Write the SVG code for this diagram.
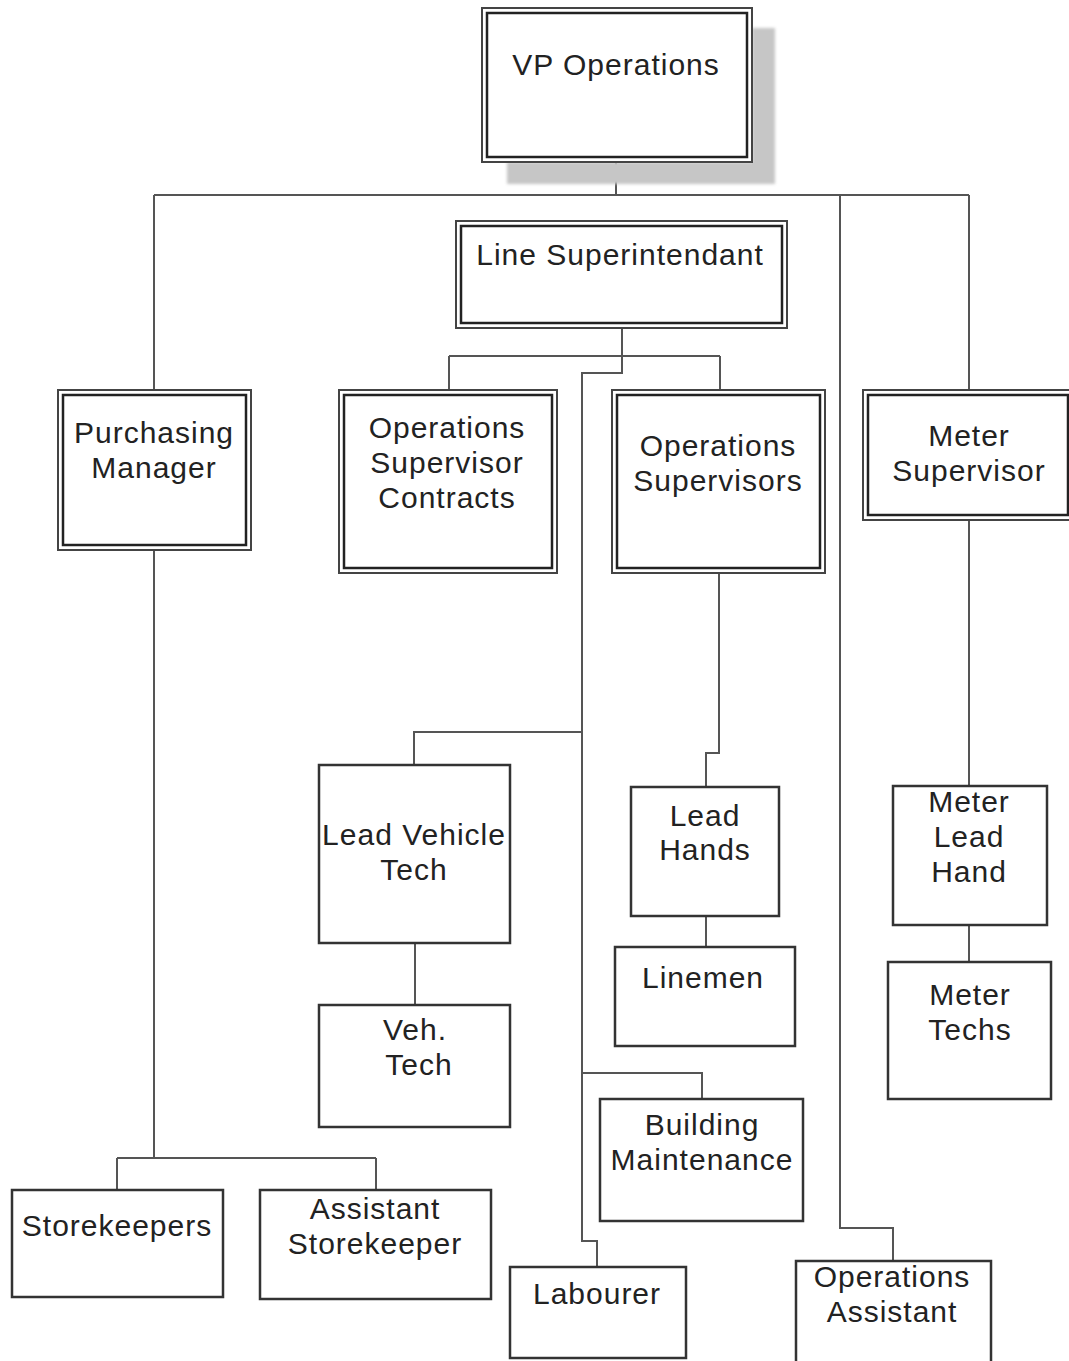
<svg xmlns="http://www.w3.org/2000/svg" width="1069" height="1361" viewBox="0 0 1069 1361">
  <defs>
    <style>
      .outer { fill: #fff; stroke: #444; stroke-width: 2; }
      .inner { fill: none; stroke: #222; stroke-width: 2.5; }
      .box { fill: #fff; stroke: #333; stroke-width: 2.5; }
      .conn { fill: none; stroke: #555; stroke-width: 2; }
      text { font-family: "Liberation Sans", Arial, sans-serif; font-size: 30px; letter-spacing: 1px; fill: #222; text-anchor: middle; }
    </style>
    <filter id="soft" x="-10%" y="-10%" width="120%" height="120%">
      <feGaussianBlur stdDeviation="1.5"/>
    </filter>
  </defs>
  <rect width="1069" height="1361" fill="#fff"/>

  <!-- connectors -->
  <g id="connectors" class="conn">
    <path d="M616 162 V195"/>
    <path d="M154 195 H969"/>
    <path d="M154 195 V390"/>
    <path d="M969 195 V390"/>
    <path d="M840 195 V1228 H893 V1261"/>
    <path d="M622 328 V373 H582 V1241 H597 V1267"/>
    <path d="M449 356 H720"/>
    <path d="M449 356 V390"/>
    <path d="M720 356 V390"/>
    <path d="M582 732 H414 V765"/>
    <path d="M582 1073 H702 V1099"/>
    <path d="M719 573 V753 H706 V787"/>
    <path d="M706 916 V947"/>
    <path d="M415 943 V1005"/>
    <path d="M154 550 V1158"/>
    <path d="M117 1158 H376"/>
    <path d="M117 1158 V1190"/>
    <path d="M376 1158 V1190"/>
    <path d="M969 520 V786"/>
    <path d="M969 925 V962"/>
  </g>

  <!-- top-level node with drop shadow -->
  <g id="vp-operations">
    <path d="M752 28 H775 V184 H507 V162 H752 Z" fill="#c6c6c6" filter="url(#soft)"/>
    <rect class="outer" x="482" y="8" width="270" height="154"/>
    <rect class="inner" x="487" y="13" width="260" height="144"/>
    <text x="616" y="75">VP Operations</text>
  </g>

  <g id="line-superintendant">
    <rect class="outer" x="456" y="221" width="331" height="107"/>
    <rect class="inner" x="461" y="226" width="321" height="97"/>
    <text x="620" y="265">Line Superintendant</text>
  </g>

  <g id="purchasing-manager">
    <rect class="outer" x="58" y="390" width="193" height="160"/>
    <rect class="inner" x="63" y="395" width="183" height="150"/>
    <text x="154" y="443">Purchasing</text>
    <text x="154" y="478">Manager</text>
  </g>

  <g id="ops-supervisor-contracts">
    <rect class="outer" x="339" y="390" width="218" height="183"/>
    <rect class="inner" x="344" y="395" width="208" height="173"/>
    <text x="447" y="438">Operations</text>
    <text x="447" y="473">Supervisor</text>
    <text x="447" y="508">Contracts</text>
  </g>

  <g id="ops-supervisors">
    <rect class="outer" x="612" y="390" width="213" height="183"/>
    <rect class="inner" x="617" y="395" width="203" height="173"/>
    <text x="718" y="456">Operations</text>
    <text x="718" y="491">Supervisors</text>
  </g>

  <g id="meter-supervisor">
    <rect class="outer" x="863" y="390" width="211" height="130"/>
    <rect class="inner" x="868" y="395" width="200" height="120"/>
    <text x="969" y="446">Meter</text>
    <text x="969" y="481">Supervisor</text>
  </g>

  <g id="lead-vehicle-tech">
    <rect class="box" x="319" y="765" width="191" height="178"/>
    <text x="414" y="845">Lead Vehicle</text>
    <text x="414" y="880">Tech</text>
  </g>

  <g id="veh-tech">
    <rect class="box" x="319" y="1005" width="191" height="122"/>
    <text x="415" y="1040">Veh.</text>
    <text x="419" y="1075">Tech</text>
  </g>

  <g id="lead-hands">
    <rect class="box" x="631" y="787" width="148" height="129"/>
    <text x="705" y="826">Lead</text>
    <text x="705" y="860">Hands</text>
  </g>

  <g id="linemen">
    <rect class="box" x="615" y="947" width="180" height="99"/>
    <text x="703" y="988">Linemen</text>
  </g>

  <g id="meter-lead-hand">
    <rect class="box" x="893" y="786" width="154" height="139"/>
    <text x="969" y="812">Meter</text>
    <text x="969" y="847">Lead</text>
    <text x="969" y="882">Hand</text>
  </g>

  <g id="meter-techs">
    <rect class="box" x="888" y="962" width="163" height="137"/>
    <text x="970" y="1005">Meter</text>
    <text x="970" y="1040">Techs</text>
  </g>

  <g id="building-maintenance">
    <rect class="box" x="600" y="1099" width="203" height="122"/>
    <text x="702" y="1135">Building</text>
    <text x="702" y="1170">Maintenance</text>
  </g>

  <g id="storekeepers">
    <rect class="box" x="12" y="1190" width="211" height="107"/>
    <text x="117" y="1236">Storekeepers</text>
  </g>

  <g id="assistant-storekeeper">
    <rect class="box" x="260" y="1190" width="231" height="109"/>
    <text x="375" y="1219">Assistant</text>
    <text x="375" y="1254">Storekeeper</text>
  </g>

  <g id="labourer">
    <rect class="box" x="510" y="1267" width="176" height="91"/>
    <text x="597" y="1304">Labourer</text>
  </g>

  <g id="operations-assistant">
    <rect class="box" x="796" y="1261" width="195" height="110"/>
    <text x="892" y="1287">Operations</text>
    <text x="892" y="1322">Assistant</text>
  </g>
</svg>
